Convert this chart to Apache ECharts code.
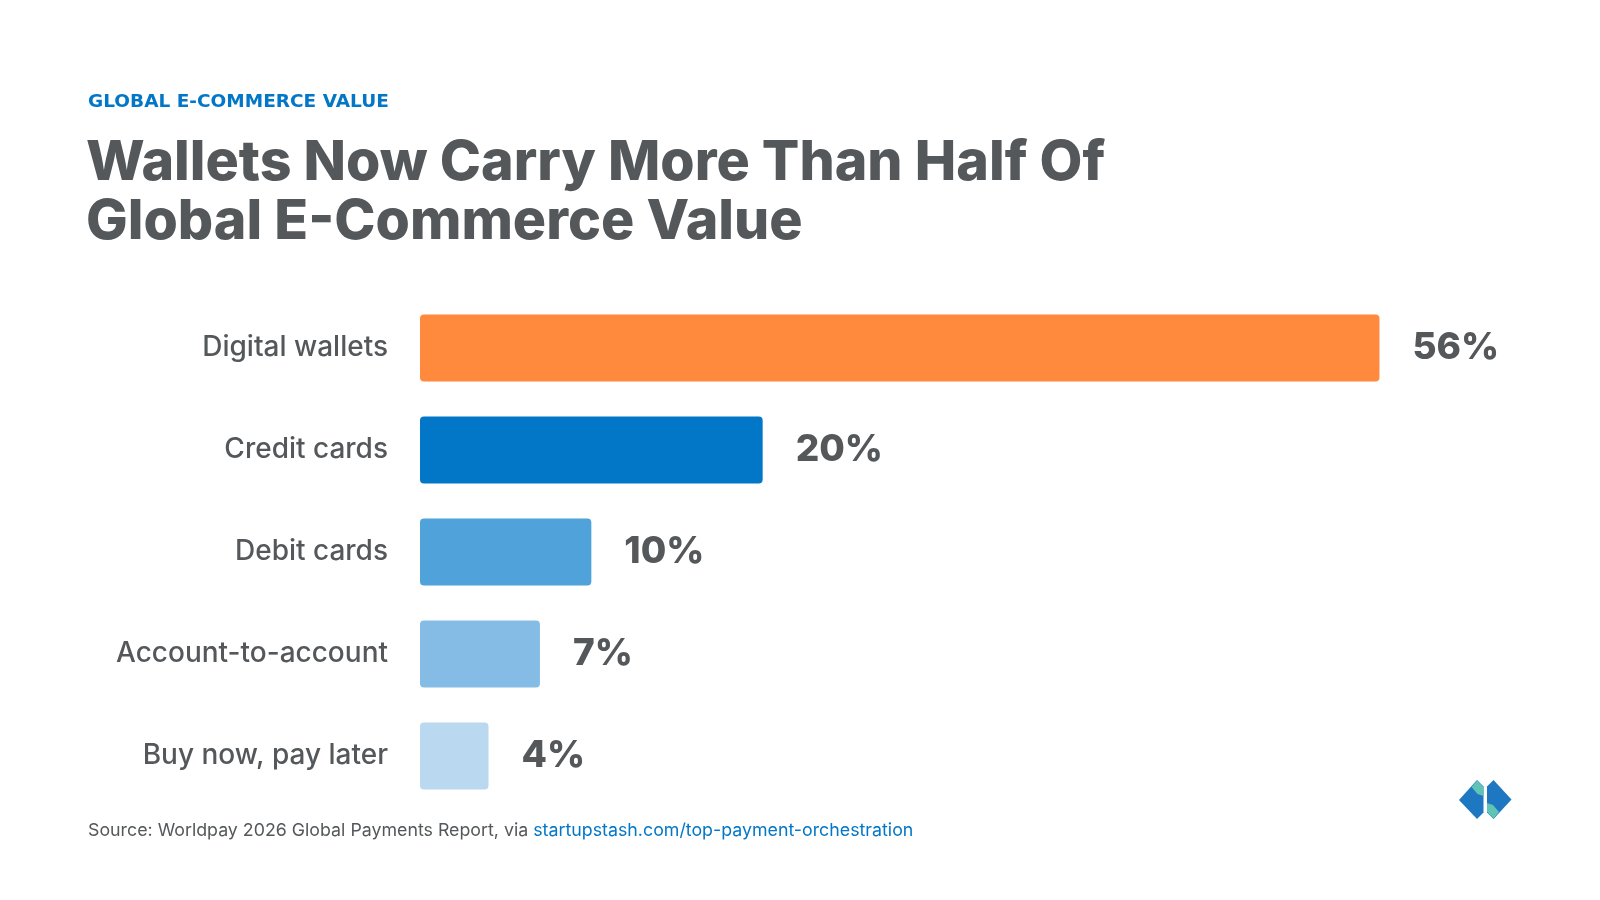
<!DOCTYPE html>
<html>
<head>
<meta charset="utf-8">
<title>Wallets Now Carry More Than Half Of Global E-Commerce Value</title>
<script src="https://cdn.jsdelivr.net/npm/echarts@6/dist/echarts.min.js"></script>
<style>
  html, body { margin: 0; padding: 0; background: #ffffff; }
  #chart { width: 1600px; height: 900px; }
</style>
</head>
<body>
<div id="chart"></div>
<script>
// data
var categories = ['Digital wallets', 'Credit cards', 'Debit cards', 'Account-to-account', 'Buy now, pay later'];
var shares = [56, 20, 10, 7, 4];

var palette = ['#ff8a3d', '#0277c8', '#4fa3da', '#85bce6', '#bad8ef'];
var ink = '#54585a';
var font = 'Inter, "Open Sans", sans-serif';

var chart = echarts.init(document.getElementById('chart'));

var option = {
    backgroundColor: '#ffffff',
    textStyle: {fontFamily: font},
    title: [
        {
            text: 'GLOBAL E-COMMERCE VALUE',
            left: 88,
            top: 92,
            padding: 0,
            textStyle: {
                fontFamily: '"DejaVu Sans", sans-serif',
                fontSize: 18.5,
                fontWeight: 'bold',
                lineHeight: 20,
                color: '#0277c8'
            }
        },
        {
            text: 'Wallets Now Carry More Than Half Of\nGlobal E-Commerce Value',
            left: 86,
            top: 134,
            padding: 0,
            textStyle: {
                fontFamily: font,
                fontSize: 55.5,
                fontWeight: 800,
                lineHeight: 59,
                color: ink
            }
        },
        {
            text: '{s|Source: Worldpay 2026 Global Payments Report, via }{l|startupstash.com/top-payment-orchestration}',
            left: 88,
            top: 819,
            padding: 0,
            textStyle: {
                rich: {
                    s: {fontFamily: font, fontSize: 17.8, fontWeight: 'normal', lineHeight: 24, color: ink},
                    l: {fontFamily: font, fontSize: 17.8, fontWeight: 'normal', lineHeight: 24, color: '#0277c8'}
                }
            }
        }
    ],
    grid: {
        left: 420,
        right: 152,
        top: 297,
        bottom: 93,
        containLabel: false
    },
    xAxis: {
        type: 'value',
        min: 0,
        max: 60,
        show: false
    },
    yAxis: {
        type: 'category',
        data: categories,
        inverse: true,
        axisLine: {show: false},
        axisTick: {show: false},
        axisLabel: {
            margin: 32,
            fontFamily: font,
            fontSize: 28,
            fontWeight: 500,
            color: ink
        }
    },
    series: [
        {
            type: 'bar',
            barWidth: 67,
            data: shares.map(function (v, i) {
                return {value: v, itemStyle: {color: palette[i]}};
            }),
            itemStyle: {borderRadius: 4},
            label: {
                show: true,
                position: 'right',
                distance: 33,
                formatter: '{c}%',
                fontFamily: font,
                fontSize: 37,
                fontWeight: 800,
                color: ink
            },
            silent: true
        }
    ],
    // logo, bottom right
    graphic: [
        {
            type: 'polygon',
            shape: {points: [[1477, 780], [1459, 800], [1477, 819], [1483.5, 812.5], [1483.5, 786.5]]},
            style: {fill: '#1d78c1'}
        },
        {
            type: 'polygon',
            shape: {points: [[1477, 780.5], [1483.5, 787], [1483.5, 796], [1477.5, 794], [1471.5, 787]]},
            style: {fill: '#5fc4b5'}
        },
        {
            type: 'polygon',
            shape: {points: [[1493.5, 780], [1511.5, 799.5], [1493.5, 819], [1487, 812.5], [1487, 786.5]]},
            style: {fill: '#1d78c1'}
        },
        {
            type: 'polygon',
            shape: {points: [[1493.5, 818.5], [1487, 812], [1487, 803], [1493, 805], [1499, 812]]},
            style: {fill: '#5fc4b5'}
        }
    ]
};

chart.setOption(option);
</script>
</body>
</html>
